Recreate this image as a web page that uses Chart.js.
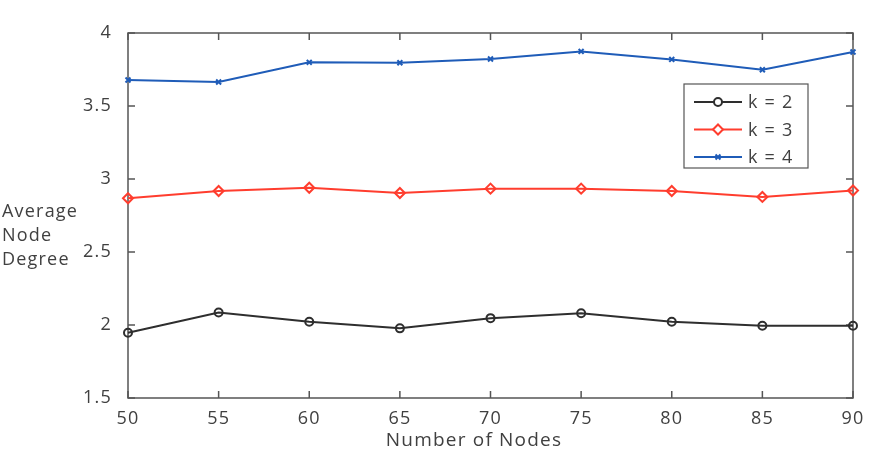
<!DOCTYPE html>
<html>
<head>
<meta charset="utf-8">
<script src="https://cdn.jsdelivr.net/npm/chart.js@4"></script>
<style>
html,body{margin:0;padding:0;background:#fff}
#wrap{position:relative;width:871px;height:452px}
</style>
</head>
<body>
<div id="wrap"><canvas id="c" width="871" height="452"></canvas></div>
<script>
const nodes=['50','55','60','65','70','75','80','85','90'];
const k2=[1.947,2.086,2.022,1.977,2.047,2.080,2.022,1.995,1.995];
const k3=[2.868,2.918,2.940,2.904,2.934,2.934,2.918,2.877,2.921];
const k4=[3.678,3.664,3.799,3.796,3.822,3.874,3.819,3.748,3.870];
const seriesNames=['k = 2','k = 3','k = 4'];
const xTitle='Number of Nodes';
const yTitle=['Average','Node','Degree'];

const FONT="'Open Sans',sans-serif";
const TXT='#404040',AX='#555';
const cols=['#2e2e2e','#ff3d2e','#1f5cb8'];
const styles=['circle','rectRot','crossRot'];
const radii=[4,5,3.5];

// wider letter spacing, the reference text is stretched horizontally
const spacing={id:'spacing',beforeDraw(chart){chart.ctx.letterSpacing='1.2px';}};

// MATLAB-like box with inward ticks, plus axis titles
const boxPlugin={id:'box',beforeDatasetsDraw(chart){
  const {ctx,chartArea:a,scales:{x,y}}=chart;
  ctx.save();
  ctx.strokeStyle=AX;ctx.lineWidth=1.5;
  ctx.strokeRect(a.left,a.top,a.right-a.left,a.bottom-a.top);
  ctx.beginPath();
  const t=7;
  x.ticks.forEach((_,i)=>{const px=x.getPixelForTick(i);
    ctx.moveTo(px,a.bottom);ctx.lineTo(px,a.bottom-t);
    ctx.moveTo(px,a.top);ctx.lineTo(px,a.top+t);});
  y.ticks.forEach(tk=>{const py=y.getPixelForValue(tk.value);
    ctx.moveTo(a.left,py);ctx.lineTo(a.left+t,py);
    ctx.moveTo(a.right,py);ctx.lineTo(a.right-t,py);});
  ctx.stroke();
  ctx.fillStyle=TXT;ctx.textBaseline='alphabetic';
  ctx.font='18px '+FONT;ctx.textAlign='left';
  yTitle.forEach((s,i)=>ctx.fillText(s,2,217+i*24));
  ctx.font='19px '+FONT;ctx.textAlign='center';
  ctx.fillText(xTitle,474,446);
  ctx.restore();
}};

const legendPlugin={id:'leg',afterDraw(chart){
  const ctx=chart.ctx;
  ctx.save();
  const bx=684,by=84,bw=124,bh=84;
  ctx.fillStyle='#fff';ctx.fillRect(bx,by,bw,bh);
  ctx.strokeStyle=AX;ctx.lineWidth=1.2;ctx.strokeRect(bx,by,bw,bh);
  ctx.font='18px '+FONT;ctx.textBaseline='middle';ctx.textAlign='left';
  chart.data.datasets.forEach((ds,i)=>{
    const cy=102+i*27.5;
    ctx.strokeStyle=ds.borderColor;ctx.lineWidth=2;
    ctx.beginPath();ctx.moveTo(694,cy);ctx.lineTo(742,cy);ctx.stroke();
    ctx.fillStyle='#fff';
    Chart.helpers.drawPoint(ctx,{pointStyle:ds.pointStyle,radius:ds.pointRadius,borderWidth:2,rotation:0},718,cy);
    ctx.fillStyle=TXT;ctx.fillText(seriesNames[i],748,cy+1);
  });
  ctx.restore();
}};

const mk=(d,i)=>({label:seriesNames[i],data:d,borderColor:cols[i],backgroundColor:'rgba(0,0,0,0)',
  borderWidth:2,pointStyle:styles[i],pointRadius:radii[i],pointBorderWidth:2,
  pointBorderColor:cols[i],pointBackgroundColor:'rgba(0,0,0,0)',tension:0,clip:false});

new Chart(document.getElementById('c'),{
  type:'line',
  data:{labels:nodes,datasets:[mk(k2,0),mk(k3,1),mk(k4,2)]},
  options:{responsive:false,animation:false,devicePixelRatio:1,
    layout:{padding:{left:0,right:18,top:33,bottom:0}},
    plugins:{legend:{display:false},tooltip:{enabled:false}},
    scales:{
      x:{offset:false,grid:{display:false},border:{display:false},
        ticks:{color:TXT,font:{family:FONT,size:18},padding:2,maxRotation:0},
        afterFit(s){s.height=54;}},
      y:{min:1.5,max:4,grid:{display:false},border:{display:false},
        ticks:{stepSize:0.5,color:TXT,font:{family:FONT,size:18},padding:8,callback:v=>String(v)},
        afterFit(s){s.width=128;}}
    }},
  plugins:[spacing,boxPlugin,legendPlugin]
});
</script>
</body>
</html>
